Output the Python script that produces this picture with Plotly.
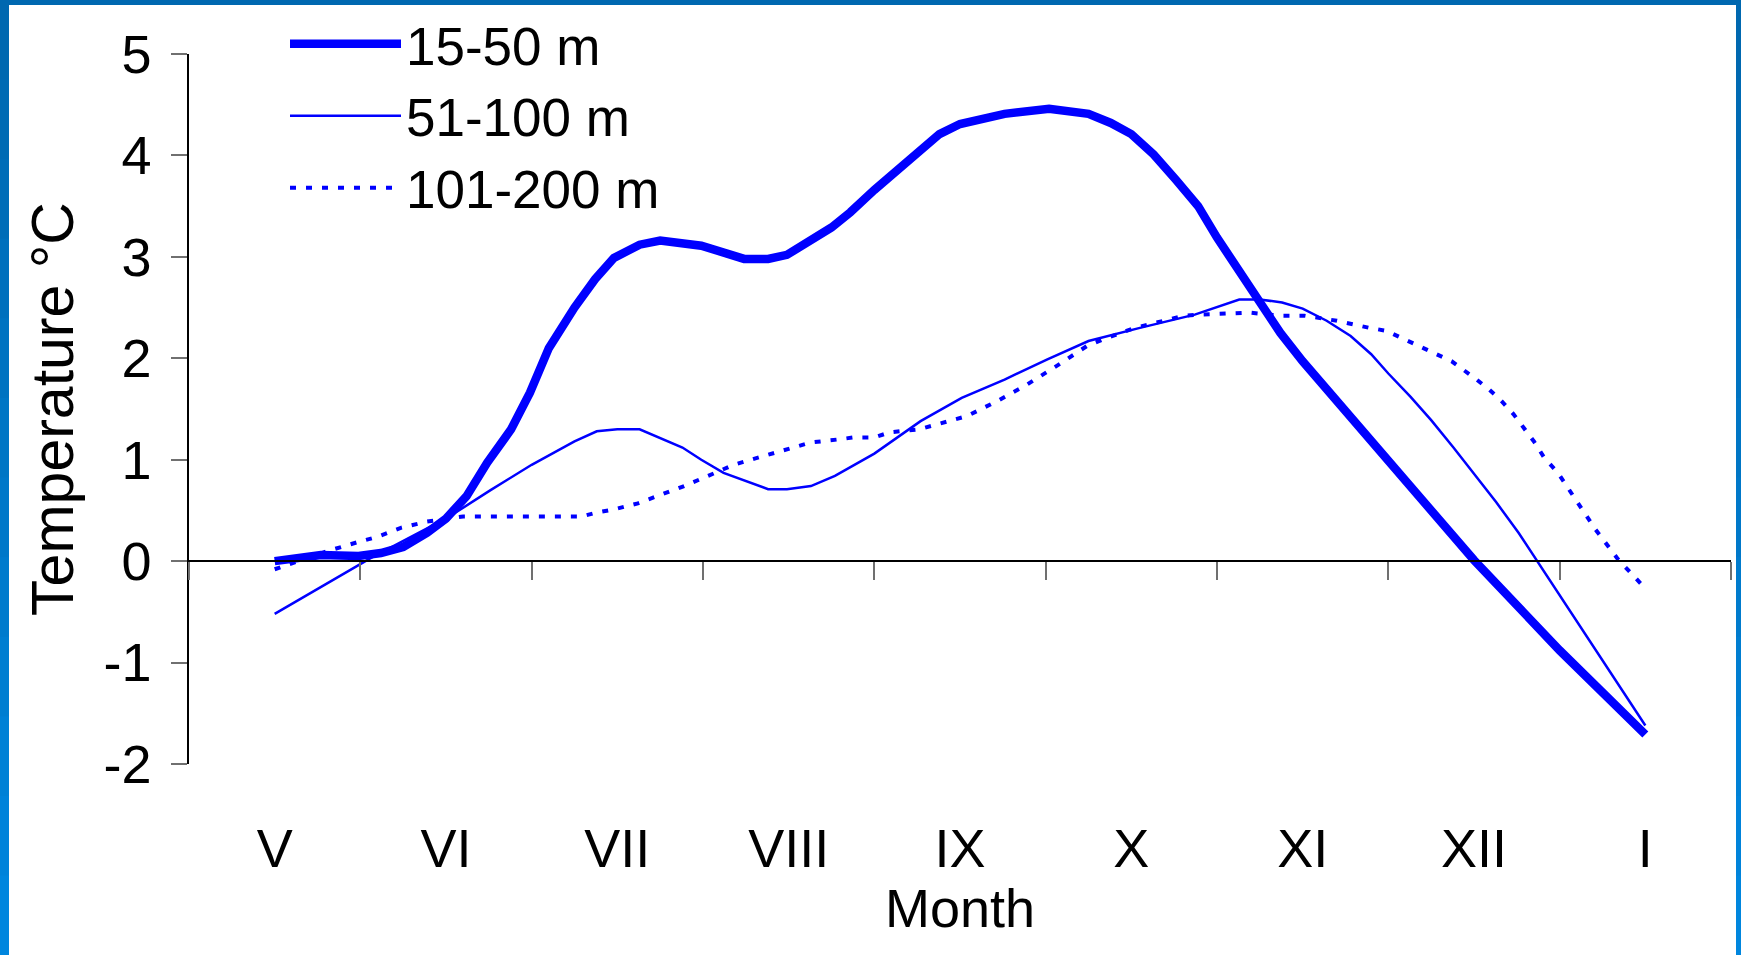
import plotly.graph_objects as go

# ---------------- data ----------------
months = ["V", "VI", "VII", "VIII", "IX", "X", "XI", "XII", "I"]

# time in months from May (0 = V ... 8 = I)
t_15_50 = [0, 0.27, 0.49, 0.62, 0.75, 0.89, 1.0, 1.12, 1.24, 1.38, 1.49, 1.60, 1.75, 1.87, 1.98,
           2.13, 2.25, 2.49, 2.74, 2.88, 2.99, 3.11, 3.25, 3.36, 3.50, 3.88, 4.0, 4.26, 4.52,
           4.75, 4.88, 5.0, 5.13, 5.26, 5.39, 5.50, 5.62, 5.74, 5.87, 6.0, 6.5, 7.0, 7.5, 8.0]
temp_15_50 = [0, 0.06, 0.05, 0.08, 0.14, 0.28, 0.42, 0.64, 0.97, 1.30, 1.66, 2.10, 2.50, 2.78, 2.99,
              3.12, 3.16, 3.11, 2.98, 2.98, 3.02, 3.14, 3.29, 3.44, 3.66, 4.21, 4.31, 4.41, 4.46,
              4.41, 4.32, 4.21, 4.01, 3.76, 3.50, 3.19, 2.89, 2.56, 2.25, 1.97, 1.0, 0.01, -0.88, -1.71]

t_51_100 = [0, 0.56, 1.02, 1.26, 1.50, 1.75, 1.88, 2.0, 2.13, 2.38, 2.49, 2.62, 2.88, 2.99, 3.13,
            3.27, 3.50, 3.77, 4.01, 4.26, 4.51, 4.75, 5.05, 5.37, 5.63, 5.75, 5.88, 6.0, 6.14,
            6.28, 6.40, 6.50, 6.63, 6.75, 6.88, 7.0, 7.13, 7.26, 8.0]
temp_51_100 = [-0.52, 0.03, 0.44, 0.70, 0.95, 1.18, 1.28, 1.30, 1.30, 1.12, 1.00, 0.87, 0.71, 0.71, 0.74,
               0.84, 1.06, 1.38, 1.61, 1.79, 1.99, 2.17, 2.30, 2.43, 2.58, 2.58, 2.55, 2.49, 2.37,
               2.22, 2.04, 1.85, 1.62, 1.39, 1.12, 0.86, 0.58, 0.28, -1.62]

t_101_200 = [0, 0.31, 0.49, 0.60, 0.74, 0.89, 1.1, 1.79, 1.88, 1.98, 2.12, 2.39, 2.57, 2.68, 2.86,
             2.95, 3.02, 3.13, 3.29, 3.38, 3.50, 3.59, 3.76, 3.87, 4.04, 4.22, 4.39, 4.56, 4.74,
             4.84, 5.02, 5.31, 5.40, 5.69, 5.87, 6.01, 6.20, 6.39, 6.49, 6.59, 6.77, 6.87, 7.0,
             7.09, 7.16, 7.23, 7.35, 7.41, 7.49, 7.59, 7.71, 7.84, 8.0]
temp_101_200 = [-0.08, 0.10, 0.19, 0.24, 0.33, 0.39, 0.44, 0.44, 0.48, 0.51, 0.57, 0.74, 0.87, 0.95, 1.04,
                1.08, 1.12, 1.17, 1.20, 1.22, 1.22, 1.27, 1.30, 1.35, 1.43, 1.58, 1.74, 1.92, 2.12,
                2.19, 2.30, 2.42, 2.43, 2.45, 2.42, 2.42, 2.37, 2.30, 2.27, 2.19, 2.05, 1.97, 1.81,
                1.69, 1.58, 1.45, 1.18, 1.02, 0.87, 0.61, 0.31, 0.02, -0.27]

y_ticks = [-2, -1, 0, 1, 2, 3, 4, 5]
y_ticktext = ["-2", "-1", "0", "1", "2", "3", "4", "5"]

# ---------------- figure ----------------
W, H = 1741, 955
ML, MR, MT, MB = 189, 10, 54, 191
FONT = "Liberation Sans, Arial, sans-serif"
BLUE = "#0000FF"

fig = go.Figure()
fig.add_trace(go.Scatter(x=t_15_50, y=temp_15_50, mode="lines", name="15-50 m",
                         line=dict(color=BLUE, width=8.5)))
fig.add_trace(go.Scatter(x=t_51_100, y=temp_51_100, mode="lines", name="51-100 m",
                         line=dict(color=BLUE, width=2.5)))
fig.add_trace(go.Scatter(x=t_101_200, y=temp_101_200, mode="lines", name="101-200 m",
                         line=dict(color=BLUE, width=4, dash="6px,10px")))
# empty helper trace so the month-label axis is drawn
fig.add_trace(go.Scatter(x=[], y=[], xaxis="x2", yaxis="y", showlegend=False, hoverinfo="skip"))

ymin, ymax = y_ticks[0], y_ticks[-1]
zero_pos = (0 - ymin) / (ymax - ymin)
n = len(months)
bounds = [i - 0.5 for i in range(n + 1)]

fig.update_layout(
    width=W, height=H,
    margin=dict(l=ML, r=MR, t=MT, b=MB, pad=0, autoexpand=False),
    paper_bgcolor="white", plot_bgcolor="white",
    font=dict(family=FONT, color="black", size=54),
    showlegend=True,
    legend=dict(x=(285 - ML) / (W - ML - MR), xanchor="left",
                y=1.072, yanchor="top",
                font=dict(family=FONT, size=53, color="black"),
                bgcolor="rgba(0,0,0,0)", itemwidth=111, tracegroupgap=0),
    xaxis=dict(range=[-0.5, n - 0.5], anchor="free", position=zero_pos,
               showline=True, linecolor="black", linewidth=1.5,
               ticks="outside", ticklen=18, tickwidth=1.5, tickcolor="#707070",
               tickmode="array", tickvals=bounds, showticklabels=False,
               showgrid=False, zeroline=False),
    xaxis2=dict(overlaying="x", matches="x", anchor="y", side="bottom",
                showline=False, ticks="", tickmode="array",
                tickvals=list(range(n)), ticktext=months,
                tickfont=dict(family=FONT, size=54, color="black"),
                ticklabelstandoff=48,
                title=dict(text="Month", font=dict(family=FONT, size=54, color="black"), standoff=0),
                showgrid=False, zeroline=False),
    yaxis=dict(range=[ymin, ymax], tickmode="array", tickvals=y_ticks, ticktext=y_ticktext,
               showline=True, linecolor="black", linewidth=1.5,
               ticks="outside", ticklen=16, tickwidth=1.5, tickcolor="#707070",
               tickfont=dict(family=FONT, size=54, color="black"),
               ticklabelstandoff=9,
               title=dict(text="Temperature °C", font=dict(family=FONT, size=59, color="black"),
                          standoff=11),
               showgrid=False, zeroline=False),
)

# decorative slide frame (blue borders) in paper coordinates
pw, ph = W - ML - MR, H - MT - MB
def px_to_paper_x(px):
    return (px - ML) / pw
def py_to_paper_y(py):
    return (H - MB - py) / ph

shapes = []
shapes.append(dict(type="rect", xref="paper", yref="paper", layer="above",
                   x0=px_to_paper_x(0), x1=px_to_paper_x(W), y0=py_to_paper_y(5), y1=py_to_paper_y(0),
                   fillcolor="#0068B0", line=dict(width=0)))
steps = 12
c0 = (0x00, 0x68, 0xB0)
c1 = (0x00, 0x86, 0xDE)
for i in range(steps):
    f = i / (steps - 1)
    col = "rgb(%d,%d,%d)" % tuple(round(a + (b - a) * f) for a, b in zip(c0, c1))
    ya = H * i / steps
    yb = H * (i + 1) / steps + 1
    shapes.append(dict(type="rect", xref="paper", yref="paper", layer="above",
                       x0=px_to_paper_x(0), x1=px_to_paper_x(9),
                       y0=py_to_paper_y(yb), y1=py_to_paper_y(ya),
                       fillcolor=col, line=dict(width=0)))
    shapes.append(dict(type="rect", xref="paper", yref="paper", layer="above",
                       x0=px_to_paper_x(1736), x1=px_to_paper_x(W),
                       y0=py_to_paper_y(yb), y1=py_to_paper_y(ya),
                       fillcolor=col, line=dict(width=0)))
fig.update_layout(shapes=shapes)

# the page body should not add its default 8px margin around the figure
fig.write_html("out.html", config={"displayModeBar": False},
               post_script="document.body.style.margin='0';")
